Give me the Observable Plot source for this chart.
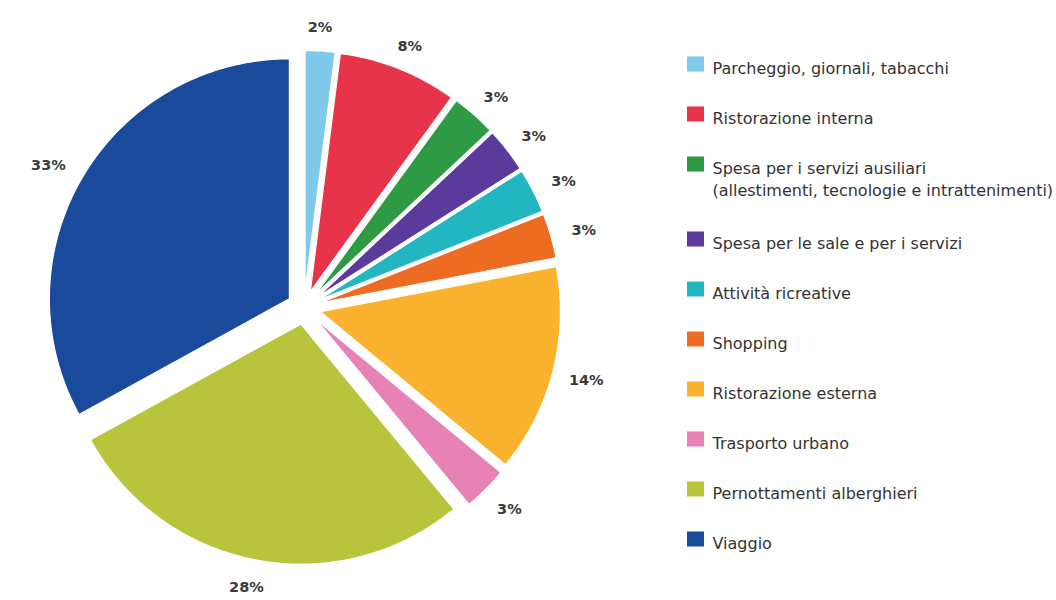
<!DOCTYPE html>
<html>
<head>
<meta charset="utf-8">
<script src="https://cdn.jsdelivr.net/npm/d3@7"></script>
<script src="https://cdn.jsdelivr.net/npm/@observablehq/plot@0.6"></script>
<style>
  html, body { margin: 0; padding: 0; background: #ffffff; }
  #chart { width: 1056px; height: 600px; }
</style>
</head>
<body>
<div id="chart"></div>
<script>
// ---- data ----
const categories = [
  "Parcheggio, giornali, tabacchi",
  "Ristorazione interna",
  "Spesa per i servizi ausiliari\n(allestimenti, tecnologie e intrattenimenti)",
  "Spesa per le sale e per i servizi",
  "Attività ricreative",
  "Shopping",
  "Ristorazione esterna",
  "Trasporto urbano",
  "Pernottamenti alberghieri",
  "Viaggio"
];
const values = [2, 8, 3, 3, 3, 3, 14, 3, 28, 33];
const colors = ["#7fcaea", "#e8344b", "#2f9a44", "#5a3a9a", "#22b6c1", "#ee6c22", "#fbb22e", "#e882b6", "#b7c43c", "#1a4a9c"];

// ---- layout ----
const W = 1056, H = 600;
const cx = 303.5, cy = 307, R = 240, explode = 17;
const labelCx = 301, labelCy = 309, labelRx = 294, labelRy = 283;
const legendSwatchX1 = 687, legendSwatchX2 = 704, legendTextX = 712;
const legendTop = 64, legendStep = 50, extraLineStep = 25;

const rows = categories.map((name, i) => ({name, value: values[i]}));
const arcs = d3.pie().sort(null).value(d => d.value)(rows).map(a => {
  const mid = (a.startAngle + a.endAngle) / 2;
  return {
    name: a.data.name,
    value: a.data.value,
    start: a.startAngle,
    end: a.endAngle,
    mid,
    ax: cx + explode * Math.sin(mid),
    ay: cy - explode * Math.cos(mid),
    lx: labelCx + labelRx * Math.sin(mid),
    ly: labelCy - labelRy * Math.cos(mid)
  };
});

// polygon outline points for each slice, derived from the pie angles
const points = [];
for (const a of arcs) {
  points.push({name: a.name, x: a.ax, y: a.ay});
  const n = Math.max(2, Math.ceil((a.end - a.start) / (Math.PI / 180)));
  for (let k = 0; k <= n; k++) {
    const t = a.start + (a.end - a.start) * k / n;
    points.push({name: a.name, x: a.ax + R * Math.sin(t), y: a.ay - R * Math.cos(t)});
  }
}

// legend rows
let yPos = legendTop;
const legendRows = categories.map(name => {
  const r = {name, y: yPos};
  yPos += legendStep + extraLineStep * (name.split("\n").length - 1);
  return r;
});

const chart = Plot.plot({
  width: W,
  height: H,
  margin: 0,
  x: {domain: [0, W], range: [0, W], axis: null},
  y: {domain: [0, H], range: [0, H], axis: null},
  color: {domain: categories, range: colors},
  style: {fontFamily: "DejaVu Sans, sans-serif", background: "#ffffff"},
  marks: [
    Plot.line(points, {x: "x", y: "y", z: "name", fill: "name", stroke: "#ffffff", strokeWidth: 1.2, curve: "linear-closed"}),
    Plot.text(arcs, {x: "lx", y: "ly", text: d => d.value + "%", fontSize: 14.5, fontWeight: "bold", fill: "#3a3a3a"}),
    Plot.rect(legendRows, {x1: legendSwatchX1, x2: legendSwatchX2, y1: d => d.y - 7.5, y2: d => d.y + 7.5, fill: "name"}),
    Plot.text(legendRows, {x: legendTextX, y: "y", text: "name", textAnchor: "start", lineAnchor: "top", dy: -6, fontSize: 16, lineHeight: 1.38, fill: "#333333"})
  ]
});
document.getElementById("chart").appendChild(chart);
</script>
</body>
</html>
